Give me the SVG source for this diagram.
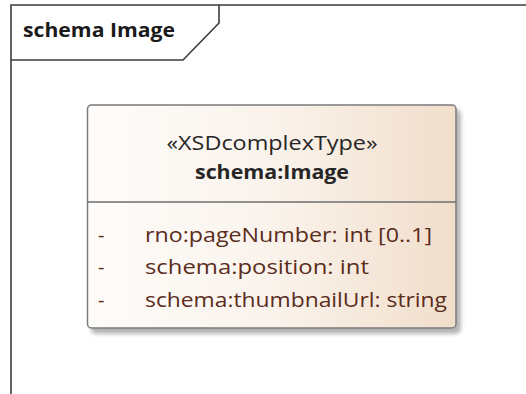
<svg xmlns="http://www.w3.org/2000/svg" width="526" height="394" viewBox="0 0 526 394">
  <defs>
    <linearGradient id="boxFill" x1="0" y1="0" x2="1" y2="0">
      <stop offset="0" stop-color="#fefcfa"/>
      <stop offset="0.5" stop-color="#faf3ec"/>
      <stop offset="1" stop-color="#f1decb"/>
    </linearGradient>
    <filter id="shadow" x="-10%" y="-10%" width="125%" height="125%">
      <feDropShadow dx="4" dy="5" stdDeviation="2" flood-color="#000" flood-opacity="0.3"/>
    </filter>
  </defs>
  <style>
    .frame { fill: none; stroke: #3c3c3c; stroke-width: 1.6; }
    .txt { font-family: "Open Sans", "Liberation Sans", sans-serif; }
    .title { font-size: 20px; font-weight: bold; fill: #1a1a1a; }
    .stereo { font-size: 20px; fill: #262626; }
    .name { font-size: 20px; font-weight: bold; fill: #262626; }
    .attr { font-size: 20px; fill: #5a2c1c; }
    .box { fill: url(#boxFill); stroke: #7b7b7b; stroke-width: 1.5; }
    .div { stroke: #6e6e6e; stroke-width: 1.5; }
  </style>
  <rect width="526" height="394" fill="#ffffff"/>
  <g id="frame">
    <path class="frame" d="M11,394 V5 H526"/>
    <path class="frame" d="M219,5 V23 L183,60 H11"/>
    <text class="txt title" x="23" y="37" textLength="152" lengthAdjust="spacingAndGlyphs">schema Image</text>
  </g>
  <g id="schema-Image">
    <rect class="box" x="87.5" y="105" width="368.5" height="223" rx="4" ry="4" filter="url(#shadow)"/>
    <line class="div" x1="87.5" y1="202" x2="456" y2="202"/>
    <text class="txt stereo" x="272" y="150" text-anchor="middle" textLength="211" lengthAdjust="spacingAndGlyphs">«XSDcomplexType»</text>
    <text class="txt name" x="272" y="179" text-anchor="middle" textLength="154" lengthAdjust="spacingAndGlyphs">schema:Image</text>
    <text class="txt attr" x="98" y="242">-</text>
    <text class="txt attr" x="145" y="242" textLength="287" lengthAdjust="spacingAndGlyphs">rno:pageNumber: int [0..1]</text>
    <text class="txt attr" x="98" y="274">-</text>
    <text class="txt attr" x="145" y="274" textLength="224" lengthAdjust="spacingAndGlyphs">schema:position: int</text>
    <text class="txt attr" x="98" y="307">-</text>
    <text class="txt attr" x="145" y="307" textLength="302" lengthAdjust="spacingAndGlyphs">schema:thumbnailUrl: string</text>
  </g>
  <g id="connectors"/>
</svg>
